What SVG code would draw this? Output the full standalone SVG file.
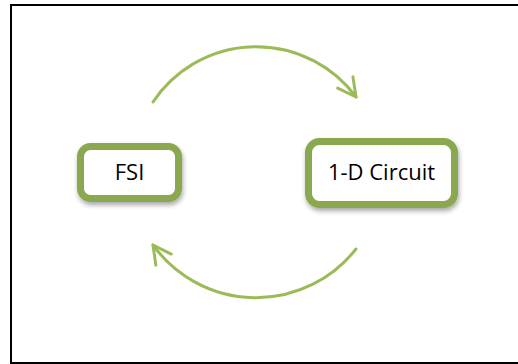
<svg xmlns="http://www.w3.org/2000/svg" width="518" height="364" viewBox="0 0 518 364">
  <style>
    .frame { fill: none; stroke: #000; stroke-width: 2; }
    .box { fill: #fff; stroke: #8aa84f; stroke-width: 7; filter: url(#shadow); }
    .label { font-family: "Open Sans", "Liberation Sans", sans-serif; font-size: 22px; fill: #000; text-anchor: middle; }
    .arc { fill: none; stroke: #9bbb59; stroke-width: 3; stroke-linecap: round; marker-end: url(#chev); }
  </style>
  <defs>
    <filter id="shadow" x="-20%" y="-20%" width="150%" height="160%">
      <feGaussianBlur in="SourceAlpha" stdDeviation="2.5"/>
      <feOffset dx="1" dy="3" result="b"/>
      <feComponentTransfer><feFuncA type="linear" slope="0.35"/></feComponentTransfer>
      <feMerge><feMergeNode/><feMergeNode in="SourceGraphic"/></feMerge>
    </filter>
    <marker id="chev" markerUnits="userSpaceOnUse" viewBox="-22 -12 26 24" refX="0" refY="0" markerWidth="26" markerHeight="24" orient="auto">
      <path d="M-18,-9.5 L0,0 L-18,9.5" fill="none" stroke="#9bbb59" stroke-width="3" stroke-linecap="round" stroke-linejoin="round"/>
    </marker>
  </defs>
  <path class="frame" d="M518,5 H11 V363 H518"/>
  <g id="connectors">
    <path class="arc" d="M153,102 A124,124 0 0 1 356,97"/>
    <path class="arc" d="M356,249 A127,127 0 0 1 153,245"/>
  </g>
  <g id="fsi">
    <rect class="box" x="80.5" y="146.5" width="98" height="52" rx="10"/>
    <text class="label" x="129.5" y="180">FSI</text>
  </g>
  <g id="circuit">
    <rect class="box" x="308.5" y="141.5" width="146" height="63" rx="11"/>
    <text class="label" x="381.5" y="180">1-D Circuit</text>
  </g>
</svg>
